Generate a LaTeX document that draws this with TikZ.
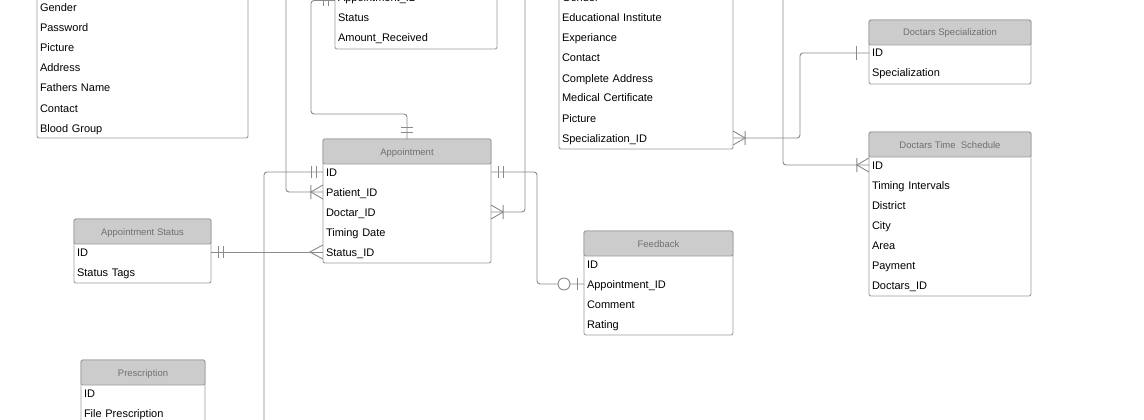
\documentclass[tikz,border=0pt]{standalone}
\usepackage{fontspec}
\setmainfont{Liberation Sans}
\usetikzlibrary{positioning,decorations.markings}
\definecolor{linegray}{RGB}{138,138,138}
\definecolor{boxgray}{RGB}{158,158,158}
\definecolor{headgray}{RGB}{204,204,204}
\definecolor{headtext}{RGB}{112,112,112}

\begin{document}
\begin{tikzpicture}[x=1pt,y=-1pt]
        \tikzstyle{box}=[draw=boxgray,fill=white,rounded corners=2pt,anchor=north west,inner sep=0pt,outer sep=0pt,line width=0.9pt]
        \tikzset{
            head/.style={draw=boxgray,fill=headgray,rounded corners=2pt,anchor=north,inner sep=0pt,outer sep=0pt,line width=0.9pt,
                minimum width=#1,minimum height=25pt,text=headtext,font=\fontsize{9.5}{11}\selectfont,text height=7pt,text depth=0pt},
            row/.style={text width=#1,align=left,inner xsep=3pt,inner ysep=0pt,outer sep=0pt,minimum height=20pt,
                text height=9pt,text depth=1pt,font=\fontsize{11}{13}\selectfont},
            conn/.style={color=linegray,line width=0.9pt,rounded corners=3pt},
            bars start/.style={postaction={decorate,decoration={markings,
                mark=at position 7pt with {\draw[sharp corners] (0,-6pt) -- (0,6pt);},
                mark=at position 12pt with {\draw[sharp corners] (0,-6pt) -- (0,6pt);}}}},
            bars end/.style={postaction={decorate,decoration={markings,
                mark=at position -7pt with {\draw[sharp corners] (0,-6pt) -- (0,6pt);},
                mark=at position -12pt with {\draw[sharp corners] (0,-6pt) -- (0,6pt);}}}},
            crow start/.style={postaction={decorate,decoration={markings,
                mark=at position 0.1pt with {\draw[sharp corners] (0,-7pt) -- (12pt,0) -- (0,7pt) (12pt,-7pt) -- (12pt,7pt);}}}},
            crow end/.style={postaction={decorate,decoration={markings,
                mark=at position -0.1pt with {\draw[sharp corners] (0,-7pt) -- (-12pt,0) -- (0,7pt) (-12pt,-7pt) -- (-12pt,7pt);}}}},
            foot end/.style={postaction={decorate,decoration={markings,
                mark=at position -0.1pt with {\draw[sharp corners] (0,-7pt) -- (-13pt,0) -- (0,7pt);}}}},
            bar end/.style={postaction={decorate,decoration={markings,
                mark=at position -13pt with {\draw[sharp corners] (0,-7pt) -- (0,7pt);}}}},
            ring end/.style={postaction={decorate,decoration={markings,
                mark=at position -7pt with {\draw[sharp corners] (0,-6pt) -- (0,6pt);},
                mark=at position -20pt with {\draw[fill=white] (0,0) circle (6pt);}}}}
        }
        \useasboundingbox (0,0) rectangle (1144,420);
        \fill[white] (0,0) rectangle (1144,420);
        \clip (0,0) rectangle (1144,420);

        % patient
        \node[box,minimum width=211pt,minimum height=288pt] (pat) at (37,-150) {};
        \node[row=205pt] (p1) at (142.5,8) {Gender};
        \node[row=205pt,below=0pt of p1] (p2) {Password};
        \node[row=205pt,below=0pt of p2] (p3) {Picture};
        \node[row=205pt,below=0pt of p3] (p4) {Address};
        \node[row=205pt,below=0pt of p4] (p5) {Fathers Name};
        \node[row=205pt,below=0pt of p5] (p6) {Contact};
        \node[row=205pt,below=0pt of p6] (p7) {Blood Group};

        % payment
        \node[box,minimum width=162pt,minimum height=199pt] (pay) at (335,-150) {};
        \node[row=156pt] (pay1) at (416,-2) {Appointment\_ID};
        \node[row=156pt,below=0pt of pay1] (pay2) {Status};
        \node[row=156pt,below=0pt of pay2] (pay3) {Amount\_Received};

        % doctor
        \node[box,minimum width=174pt,minimum height=299pt] (doc) at (559,-150) {};
        \node[row=168pt] (d1) at (646,-2) {Gender};
        \node[row=168pt,below=0pt of d1] (d2) {Educational Institute};
        \node[row=168pt,below=0pt of d2] (d3) {Experiance};
        \node[row=168pt,below=0pt of d3] (d4) {Contact};
        \node[row=168pt,below=0pt of d4] (d5) {Complete Address};
        \node[row=168pt,below=0pt of d5] (d6) {Medical Certificate};
        \node[row=168pt,below=0pt of d6] (d7) {Picture};
        \node[row=168pt,below=0pt of d7] (d8) {Specialization\_ID};

        % specialization
        \node[box,minimum width=162pt,minimum height=64pt] (spec) at (869,20) {};
        \node[head=162pt] (specH) at (spec.north) {Doctars Specialization};
        \node[row=156pt,below=-2pt of specH] (s1) {ID};
        \node[row=156pt,below=0pt of s1] (s2) {Specialization};

        % time schedule
        \node[box,minimum width=162pt,minimum height=164pt] (time) at (869,132) {};
        \node[head=162pt] (timeH) at (time.north) {Doctars Time\ \ Schedule};
        \node[row=156pt,below=-2pt of timeH] (t1) {ID};
        \node[row=156pt,below=0pt of t1] (t2) {Timing Intervals};
        \node[row=156pt,below=0pt of t2] (t3) {District};
        \node[row=156pt,below=0pt of t3] (t4) {City};
        \node[row=156pt,below=0pt of t4] (t5) {Area};
        \node[row=156pt,below=0pt of t5] (t6) {Payment};
        \node[row=156pt,below=0pt of t6] (t7) {Doctars\_ID};

        % appointment
        \node[box,minimum width=168pt,minimum height=124pt] (appt) at (323,139) {};
        \node[head=168pt] (apptH) at (appt.north) {Appointment};
        \node[row=162pt,below=-2pt of apptH] (a1) {ID};
        \node[row=162pt,below=0pt of a1] (a2) {Patient\_ID};
        \node[row=162pt,below=0pt of a2] (a3) {Doctar\_ID};
        \node[row=162pt,below=0pt of a3] (a4) {Timing Date};
        \node[row=162pt,below=0pt of a4] (a5) {Status\_ID};

        % appointment status
        \node[box,minimum width=137pt,minimum height=64pt] (stat) at (74,219) {};
        \node[head=137pt] (statH) at (stat.north) {Appointment Status};
        \node[row=131pt,below=-2pt of statH] (st1) {ID};
        \node[row=131pt,below=0pt of st1] (st2) {Status Tags};

        % feedback
        \node[box,minimum width=149pt,minimum height=104pt] (fb) at (584,231) {};
        \node[head=149pt] (fbH) at (fb.north) {Feedback};
        \node[row=143pt,below=-2pt of fbH] (f1) {ID};
        \node[row=143pt,below=0pt of f1] (f2) {Appointment\_ID};
        \node[row=143pt,below=0pt of f2] (f3) {Comment};
        \node[row=143pt,below=0pt of f3] (f4) {Rating};

        % prescription
        \node[box,minimum width=124pt,minimum height=120pt] (pres) at (81,360) {};
        \node[head=124pt] (presH) at (pres.north) {Prescription};
        \node[row=118pt,below=-2pt of presH] (pr1) {ID};
        \node[row=118pt,below=0pt of pr1] (pr2) {File Prescription};

        % free ends above and below the view
        \coordinate (patID) at (286,-20);
        \coordinate (docID) at (525,-20);
        \coordinate (docID2) at (783,-20);
        \coordinate (down) at (264,440);

        \draw[conn,bars start,bars end] ([yshift=-2.5pt]pay1.west) -| (311,114) -| (appt.north);
        \draw[conn,crow end] (patID) |- (a2.west);
        \draw[conn,crow end] (docID) |- (a3.east);
        \draw[conn,bars start] (a1.west) -| (down);
        \draw[conn,bars start,ring end] (a1.east) -- ++(46,0) |- (f2.west);
        \draw[conn,bars start,foot end] (st1.east) -- (a5.west);
        \draw[conn,crow start,bar end] (d8.east) -- ++(67,0) |- (s1.west);
        \draw[conn,crow end] (docID2) |- (t1.west);
    \end{tikzpicture}
\end{document}
